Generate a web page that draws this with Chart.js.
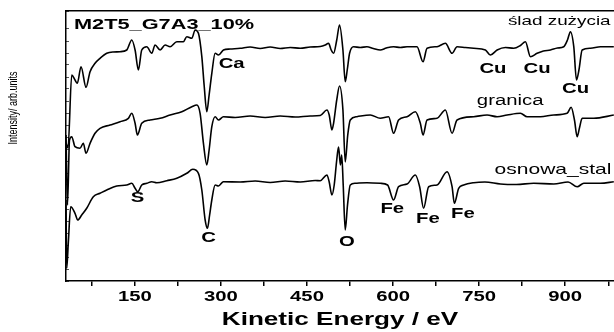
<!DOCTYPE html>
<html>
<head>
<meta charset="utf-8">
<script src="https://cdn.jsdelivr.net/npm/chart.js@4/dist/chart.umd.min.js"></script>
<style>
  html, body { margin: 0; padding: 0; background: #fff; }
  #wrap { width: 614px; height: 332px; }
</style>
</head>
<body>
<div id="wrap"><canvas id="aesChart"></canvas></div>
<script>
// Kinetic energy (eV) / intensity (a.u., curves offset vertically)
const sladEnergy = [30, 33.5, 40, 45.7, 49.7, 56.2, 64.9, 71.9, 80.6, 89.3,
    101, 112, 124.2, 135.9, 144.6, 150.4, 156.1, 162, 170.8, 179.5,
    185.2, 194, 202.7, 211.4, 223.1, 234.6, 240.5, 249.3, 255, 260.8,
    266.7, 270.7, 275.4, 279.4, 284.1, 289.9, 295.7, 304.4, 316, 333.5,
    350.9, 368.4, 385.8, 403.3, 420.7, 438.2, 455.6, 473.1, 481.8, 487.5,
    492.2, 496.3, 501.8, 506.7, 512.6, 516.6, 520.1, 524.2, 531.1, 542.8,
    554.5, 565.5, 577.7, 588.2, 600.9, 612.6, 624.3, 641.7, 652.2, 659.2,
    676.6, 691.1, 702.8, 711.5, 726, 740.5, 760.9, 769.6, 781.3, 795.8,
    810.2, 821.9, 830.6, 839.4, 851, 862, 874.2, 886.4, 897.4, 903.9,
    909.1, 914.9, 919.6, 923.9, 929.5, 944, 961.4, 984.7];
const sladIntensity = [138, 133, 206, 201, 197.7, 214.3, 193.7, 209.3, 217.7, 222.7,
    227.7, 229, 229.3, 231, 241, 231, 211, 231, 234.3, 227.7,
    236, 231, 236, 234.3, 239.3, 239.3, 244.3, 242.7, 251, 247.7,
    224.3, 196, 169.3, 186, 207.7, 227.7, 226, 231, 232, 232.7,
    234, 232.5, 234, 232.5, 233.5, 232.7, 234, 234.5, 236, 237.7,
    231, 227.7, 241, 256, 231, 199.3, 211, 227.7, 234.3, 233.5,
    234.3, 232.5, 231, 233, 234.3, 233.5, 234.3, 234.3, 219.3, 232.7,
    234.3, 237.7, 227.7, 234.3, 233.5, 232.7, 231, 226, 231, 233.5,
    232.7, 235.5, 239.3, 224.3, 227.7, 230, 231, 233, 234.3, 241,
    249.3, 234.3, 201, 211, 231, 232.7, 234.3, 234.3];

const granicaEnergy = [30, 32.6, 36.1, 40, 45.7, 54.4, 60.2, 64.9, 71.9, 80.6,
    89.3, 106.7, 124.2, 138.7, 144.6, 150.4, 154.4, 162, 176.5, 194,
    211.4, 231.8, 249.3, 258, 263.7, 269.5, 275.4, 279.4, 284.1, 289.9,
    295.7, 304.4, 324.8, 350.9, 377.1, 403.3, 429.4, 455.6, 473.1, 484.7,
    488.7, 493.4, 496.3, 501.8, 506.7, 512.6, 516.6, 521, 525.4, 537,
    560.3, 577.7, 592.2, 600.9, 609.6, 624.3, 638.8, 647.5, 652.2, 659.2,
    676.6, 691.1, 702.8, 711.5, 740.5, 763.8, 781.3, 798.7, 821.9, 833.6,
    856.8, 880, 903.3, 910.3, 916.1, 920.8, 924.8, 929.5, 949.7, 984.7];
const granicaIntensity = [146, 76, 141, 144.3, 134.3, 132.7, 137.7, 127.7, 137.7, 147.7,
    152.7, 156, 159.3, 162.7, 167.7, 157.7, 146, 157.7, 161, 162.7,
    166, 169.3, 174.3, 176, 167.7, 137.7, 116, 131, 154.3, 164.3,
    161, 164.3, 163.5, 165, 163.5, 165, 164, 165, 165.5, 171,
    166, 151, 157.7, 181, 195, 171, 119, 146, 161, 164.3,
    166, 162.7, 164.3, 147.7, 161, 164.3, 169.3, 157.7, 146, 161,
    162.7, 171, 147.7, 161, 164.3, 166, 164.3, 166, 167.7, 164.3,
    164.3, 166, 167.7, 173.7, 161, 144.3, 153, 162.7, 162.7, 166];

const osnowaEnergy = [30, 31.2, 34, 38.2, 45.7, 50.4, 57.4, 66.1, 77.6, 89.3,
    101, 118.4, 135.9, 144.6, 150.4, 155.1, 162, 170.8, 179.5, 188.2,
    205.7, 223.1, 240.5, 251, 260.8, 266.7, 272.5, 276.5, 280.3, 284.1,
    289.9, 295.7, 304.4, 333.5, 359.7, 385.8, 412, 438.2, 464.3, 473.1,
    484.7, 488.7, 493.4, 497.4, 501.8, 505, 508.2, 510.5, 513.1, 516.6,
    520.6, 525.4, 534.1, 554.5, 577.7, 590.4, 600.9, 609.6, 624.3, 638.8,
    646.3, 653.2, 662, 676.6, 694.1, 702.8, 706.8, 714.3, 723, 740.5,
    760, 787, 815, 845.1, 880, 905, 920.8, 932.4, 961.4, 984.7];
const osnowaIntensity = [81, 12.7, 38, 74.3, 67.7, 61, 66, 72.7, 84.3, 87.7,
    91, 95, 96, 97.7, 92.7, 89.3, 96, 97.7, 99.3, 98.3,
    100.3, 102.7, 107.7, 111.7, 107.7, 91, 61, 52.7, 66, 81,
    96, 95, 99.3, 99, 100, 98.5, 100, 99, 100.5, 100.3,
    106, 99, 86, 96, 121, 134, 116, 126, 96, 51,
    76, 96, 97.7, 98.3, 97.7, 96, 81, 94.3, 97, 106,
    94.3, 72.7, 94.3, 96, 109.3, 94.3, 77.7, 92.7, 96, 98.3,
    99, 97, 96.5, 97.7, 97, 99, 94.3, 97.7, 97.7, 99.3];

const xLabelTicks = [150, 300, 450, 600, 750, 900];
const xMinorTicks = [75, 225, 375, 525, 675, 825, 975];

// element labels: [text, energy, intensity]
const peakLabels = [
    ['Ca', 318.7, 217], ['Cu', 774, 212], ['Cu', 851, 212], ['Cu', 917.9, 192],
    ['S', 154.7, 83], ['C', 278.6, 43], ['O', 519.6, 39],
    ['Fe', 598.6, 71.5], ['Fe', 660.6, 62], ['Fe', 721.6, 67]
];
// curve names, anchored at their right end: [text, energy, intensity, font size]
const seriesLabels = [
    ['ślad zużycia', 979, 260, 13], ['granica', 862, 180, 14], ['osnowa_stal', 980.6, 111, 14.5]
];

const FONT = '"Liberation Sans", Arial, sans-serif';
const STRETCH = 1.45;  // the original figure is stretched horizontally

function toPoints(xs, ys) {
    return xs.map((x, i) => ({ x: x, y: ys[i] }));
}

const stretchText = {
    id: 'stretchText',
    beforeInit(chart) {
        const ctx = chart.ctx;
        const plain = ctx.fillText.bind(ctx);
        ctx.plainFillText = plain;
        ctx.fillText = function (text, x, y) {
            this.save();
            this.translate(x, y);
            this.scale(STRETCH, 1);
            plain(text, 0, 0);
            this.restore();
        };
    }
};

const labelsPlugin = {
    id: 'labelsPlugin',
    afterDatasetsDraw(chart) {
        const ctx = chart.ctx;
        const xs = chart.scales.x, ys = chart.scales.y;
        ctx.save();
        ctx.fillStyle = '#000';
        ctx.textBaseline = 'middle';

        ctx.textAlign = 'left';
        ctx.font = 'bold 15px ' + FONT;
        ctx.fillText('M2T5_G7A3_10%', chart.chartArea.left + 8, 25);

        ctx.textAlign = 'center';
        ctx.font = 'bold 14px ' + FONT;
        peakLabels.forEach(l => ctx.fillText(l[0], xs.getPixelForValue(l[1]), ys.getPixelForValue(l[2])));

        ctx.textAlign = 'right';
        seriesLabels.forEach(l => {
            ctx.font = l[3] + 'px ' + FONT;
            ctx.fillText(l[0], xs.getPixelForValue(l[1]), ys.getPixelForValue(l[2]));
        });

        // y axis title, vertical (stretch across the text, like the original)
        ctx.translate(13, 108);
        ctx.rotate(-Math.PI / 2);
        ctx.scale(1, STRETCH);
        ctx.textAlign = 'center';
        ctx.font = '9px ' + FONT;
        ctx.plainFillText('Intensity/ arb.units', 0, 0);
        ctx.restore();
    }
};

function lineSet(label, xs, ys) {
    return {
        label: label,
        data: toPoints(xs, ys),
        borderColor: '#000',
        borderWidth: 1.6,
        pointRadius: 0,
        cubicInterpolationMode: 'monotone',
        fill: false
    };
}

const ctx = document.getElementById('aesChart').getContext('2d');
new Chart(ctx, {
    type: 'line',
    data: {
        datasets: [
            lineSet('ślad zużycia', sladEnergy, sladIntensity),
            lineSet('granica', granicaEnergy, granicaIntensity),
            lineSet('osnowa_stal', osnowaEnergy, osnowaIntensity)
        ]
    },
    options: {
        responsive: true,
        maintainAspectRatio: false,
        animation: false,
        layout: { padding: { top: 11, left: 0, right: 0, bottom: 0 } },
        plugins: { legend: { display: false }, tooltip: { enabled: false } },
        scales: {
            x: {
                type: 'linear',
                min: 30,
                max: 985,
                afterBuildTicks(scale) {
                    scale.ticks = xMinorTicks.concat(xLabelTicks).sort((a, b) => a - b).map(v => ({ value: v }));
                },
                afterFit(scale) { scale.height = 51; },
                ticks: {
                    autoSkip: false,
                    maxRotation: 0,
                    padding: 3,
                    color: '#000',
                    font: { family: FONT, size: 14, weight: 'bold' },
                    callback: v => xLabelTicks.includes(v) ? String(v) : ''
                },
                grid: { drawOnChartArea: false, tickLength: 5, color: '#000', lineWidth: 1.5 },
                border: { color: '#000', width: 1.5 },
                title: {
                    display: true,
                    text: 'Kinetic Energy / eV',
                    color: '#000',
                    font: { family: FONT, size: 18, weight: 'bold' },
                    padding: { top: 0, bottom: 1 }
                }
            },
            xTop: {
                type: 'linear',
                position: 'top',
                min: 30,
                max: 985,
                afterFit(scale) { scale.height = 0; },
                ticks: { display: false },
                grid: { drawOnChartArea: false, drawTicks: false },
                border: { color: '#000', width: 1.5 }
            },
            y: {
                min: 0,
                max: 270,
                afterFit(scale) { scale.width = 66; },
                ticks: { display: false, stepSize: 12 },
                grid: { drawOnChartArea: false, tickLength: -3, color: '#555', lineWidth: 1 },
                border: { color: '#000', width: 1.5 }
            }
        }
    },
    plugins: [stretchText, labelsPlugin]
});
</script>
</body>
</html>
